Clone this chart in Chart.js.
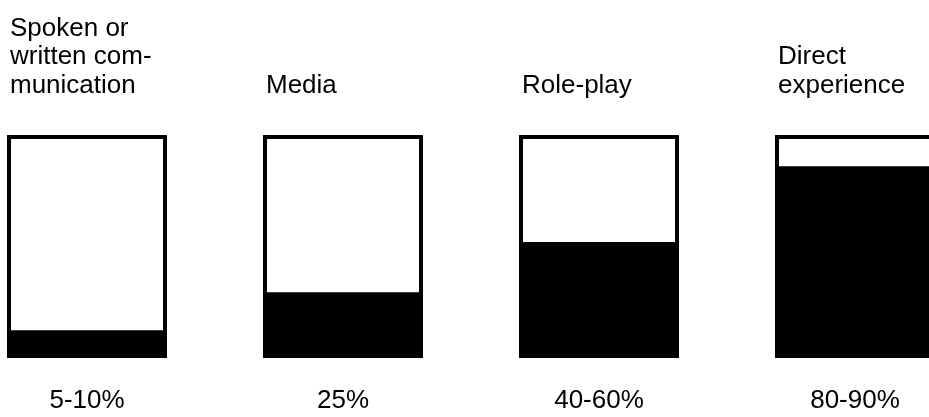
<!DOCTYPE html>
<html>
<head>
<meta charset="utf-8">
<script src="https://cdn.jsdelivr.net/npm/chart.js@4"></script>
<style>
  html, body { margin: 0; padding: 0; background: #ffffff; overflow: hidden; width: 929px; height: 417px; }
  #outer { position: relative; width: 929px; height: 417px; overflow: hidden; }
  #wrap { position: absolute; left: -41.5px; top: 0; width: 1024px; height: 417px; }
</style>
</head>
<body>
<div id="outer"><div id="wrap"><canvas id="c" width="1024" height="417"></canvas></div></div>
<script>
// Category titles (multi-line), shown above each box
const methodLabels = [
  ["Spoken or", "written com-", "munication"],
  ["Media"],
  ["Role-play"],
  ["Direct", "experience"]
];
// Retention range labels, shown below each box
const rangeLabels = ["5-10%", "25%", "40-60%", "80-90%"];
// Filled share of each box (percent)
const filledShare = [12.5, 29.5, 52, 86];
// Full box height (100%)
const boxFull = [100, 100, 100, 100];

const FONT = "'Liberation Sans', Arial, Helvetica, sans-serif";

function fixAxis(height) {
  return (scale) => {
    scale.height = height;
    scale.paddingLeft = 0;
    scale.paddingRight = 0;
  };
}

new Chart(document.getElementById('c'), {
  type: 'bar',
  data: {
    labels: rangeLabels,
    datasets: [
      {
        label: 'Retained',
        data: filledShare,
        backgroundColor: '#000000',
        borderWidth: 0,
        grouped: false,
        order: 1,
        categoryPercentage: 1,
        barPercentage: 0.625
      },
      {
        label: 'Box',
        data: boxFull,
        backgroundColor: '#ffffff',
        borderColor: '#000000',
        borderWidth: 4,
        borderSkipped: false,
        grouped: false,
        order: 2,
        categoryPercentage: 1,
        barPercentage: 0.625
      }
    ]
  },
  options: {
    responsive: false,
    animation: false,
    devicePixelRatio: 1,
    layout: { padding: { top: 12, bottom: 0, left: 0, right: 0 } },
    plugins: { legend: { display: false }, tooltip: { enabled: false }, title: { display: false } },
    scales: {
      x: {
        type: 'category',
        position: 'bottom',
        offset: true,
        border: { display: false },
        grid: { display: false, drawTicks: false, offset: true },
        afterFit: fixAxis(59),
        ticks: {
          color: '#000000',
          padding: 30,
          font: { family: FONT, size: 26, lineHeight: 1.0 },
          maxRotation: 0,
          autoSkip: false
        }
      },
      xTop: {
        type: 'category',
        position: 'top',
        labels: methodLabels,
        offset: true,
        border: { display: false },
        grid: { display: false, drawTicks: false, offset: true },
        afterFit: fixAxis(123),
        ticks: {
          color: '#000000',
          padding: 35,
          align: 'start',
          labelOffset: -77,
          font: { family: FONT, size: 26, lineHeight: 1.1 },
          maxRotation: 0,
          autoSkip: false
        }
      },
      y: {
        display: false,
        min: 0,
        max: 100
      }
    }
  }
});
</script>
</body>
</html>
